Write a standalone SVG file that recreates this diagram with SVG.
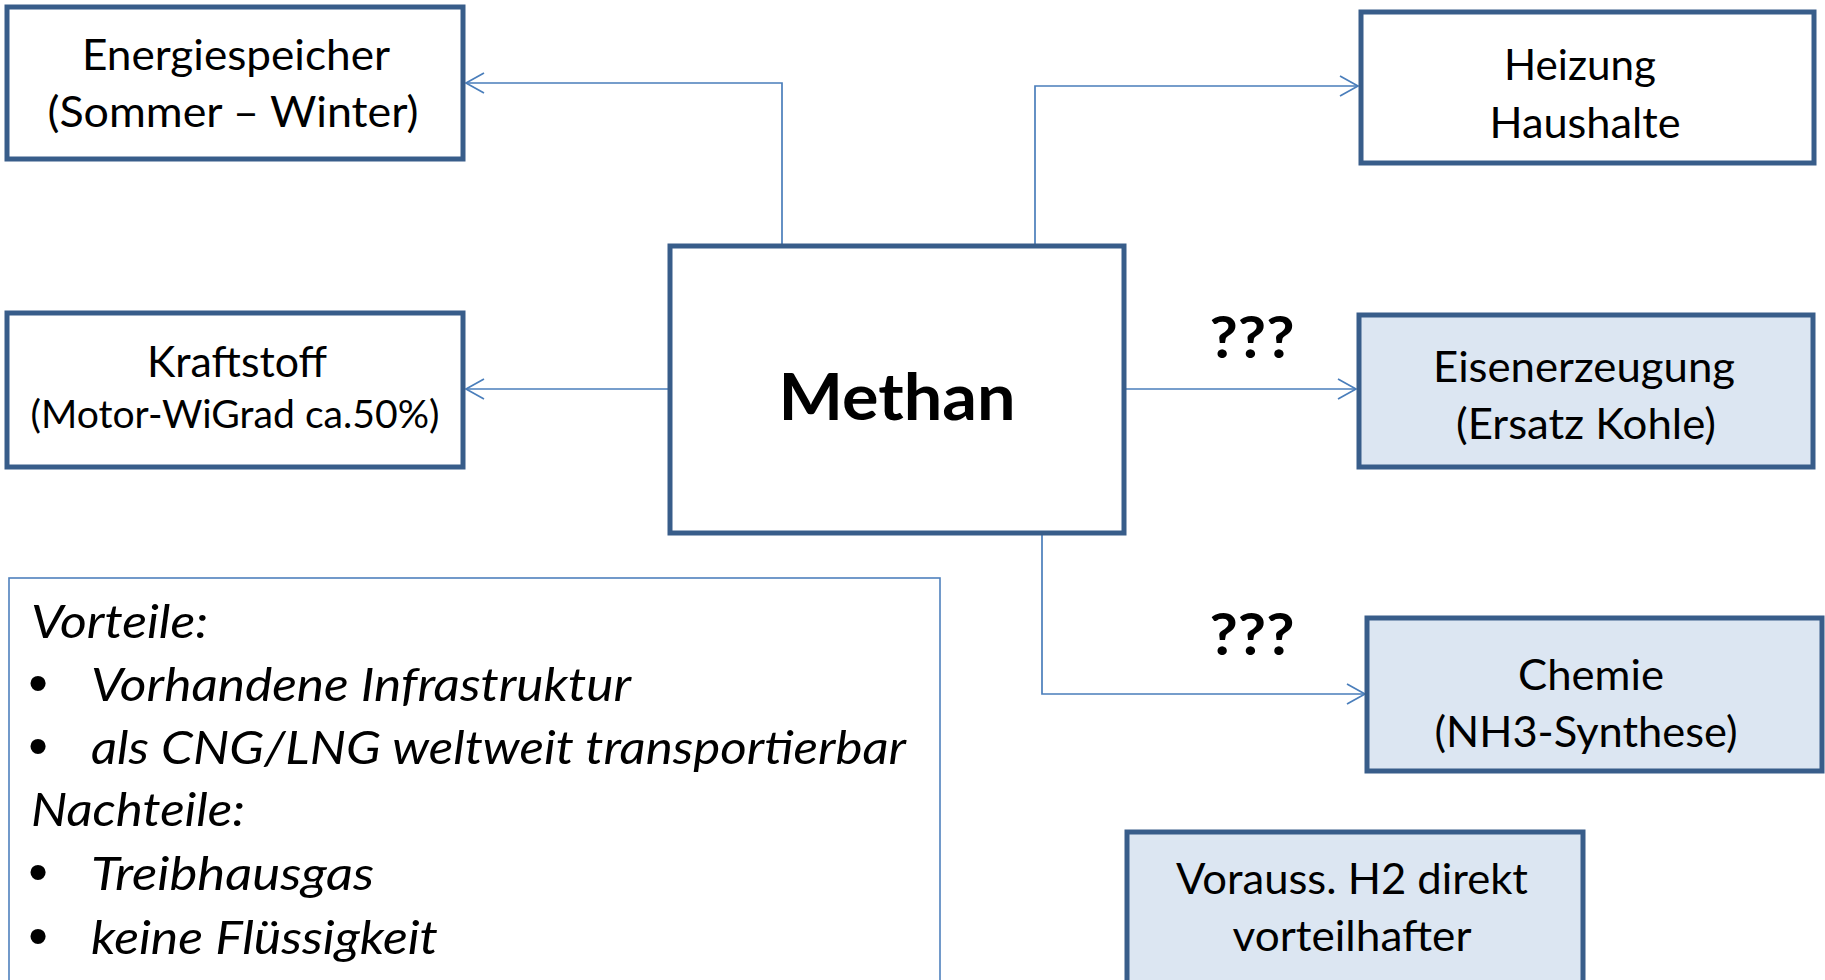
<svg xmlns="http://www.w3.org/2000/svg" width="1825" height="980" viewBox="0 0 1825 980">
  <style>
    .box { fill: #ffffff; stroke: #385d8a; stroke-width: 5; }
    .boxb { fill: #dce6f2; stroke: #385d8a; stroke-width: 5; }
    .note { fill: #ffffff; stroke: #4f81bd; stroke-width: 1.6; }
    .t { font-family: Lato, "Liberation Sans", sans-serif; font-size: 42px; fill: #000; text-anchor: middle; }
    .ts { font-size: 38px; }
    .big { font-family: Lato, "Liberation Sans", sans-serif; font-weight: bold; font-size: 65px; fill: #000; text-anchor: middle; }
    .q { font-family: Lato, "Liberation Sans", sans-serif; font-weight: bold; font-size: 58px; fill: #000; text-anchor: middle; }
    .it { font-family: Lato, "Liberation Sans", sans-serif; font-style: italic; font-size: 47px; fill: #000; }
    .bul { font-family: "Liberation Sans", sans-serif; font-size: 56px; fill: #000; text-anchor: middle; }
    .con { fill: none; stroke: #4a7ebb; stroke-width: 1.7; }
  </style>
  <defs>
    <marker id="arr" markerUnits="userSpaceOnUse" markerWidth="24" markerHeight="24" viewBox="-20 -12 22 24" refX="0" refY="0" orient="auto">
      <path d="M-18,-10 L0,0 L-18,10" fill="none" stroke="#4a7ebb" stroke-width="1.7"/>
    </marker>
  </defs>

  <g id="connectors">
    <path class="con" d="M782,246 V83 H466" marker-end="url(#arr)"/>
    <path class="con" d="M1035,246 V86 H1358" marker-end="url(#arr)"/>
    <path class="con" d="M670,389 H466" marker-end="url(#arr)"/>
    <path class="con" d="M1124,389 H1356" marker-end="url(#arr)"/>
    <path class="con" d="M1042,533 V694 H1365" marker-end="url(#arr)"/>
  </g>

  <g id="energiespeicher">
    <rect class="box" x="7" y="7" width="456" height="152"/>
    <text class="t" x="236" y="70" textLength="308" lengthAdjust="spacingAndGlyphs">Energiespeicher</text>
    <text class="t" x="233" y="127" textLength="371" lengthAdjust="spacingAndGlyphs">(Sommer – Winter)</text>
  </g>

  <g id="kraftstoff">
    <rect class="box" x="7" y="313" width="456" height="154"/>
    <text class="t" x="237" y="377" textLength="180" lengthAdjust="spacingAndGlyphs">Kraftstoff</text>
    <text class="t ts" x="235" y="428" textLength="409" lengthAdjust="spacingAndGlyphs">(Motor-WiGrad ca.50%)</text>
  </g>

  <g id="methan">
    <rect class="box" x="670" y="246" width="454" height="287"/>
    <text class="big" x="897" y="420" textLength="237" lengthAdjust="spacingAndGlyphs">Methan</text>
  </g>

  <g id="heizung">
    <rect class="box" x="1361" y="12" width="453" height="151"/>
    <text class="t" x="1580" y="80" textLength="152" lengthAdjust="spacingAndGlyphs">Heizung</text>
    <text class="t" x="1585" y="138" textLength="191" lengthAdjust="spacingAndGlyphs">Haushalte</text>
  </g>

  <g id="eisenerzeugung">
    <rect class="boxb" x="1359" y="315" width="454" height="152"/>
    <text class="t" x="1584" y="382" textLength="302" lengthAdjust="spacingAndGlyphs">Eisenerzeugung</text>
    <text class="t" x="1586" y="439" textLength="260" lengthAdjust="spacingAndGlyphs">(Ersatz Kohle)</text>
  </g>

  <g id="chemie">
    <rect class="boxb" x="1367" y="618" width="455" height="153"/>
    <text class="t" x="1591" y="690" textLength="146" lengthAdjust="spacingAndGlyphs">Chemie</text>
    <text class="t" x="1586" y="747" textLength="303" lengthAdjust="spacingAndGlyphs">(NH3-Synthese)</text>
  </g>

  <g id="vorauss">
    <rect class="boxb" x="1127" y="832" width="456" height="170"/>
    <text class="t" x="1352" y="894" textLength="352" lengthAdjust="spacingAndGlyphs">Vorauss. H2 direkt</text>
    <text class="t" x="1352" y="951" textLength="239" lengthAdjust="spacingAndGlyphs">vorteilhafter</text>
  </g>

  <g id="label-q1">
    <text class="q" x="1252" y="358" textLength="85" lengthAdjust="spacingAndGlyphs">???</text>
  </g>
  <g id="label-q2">
    <text class="q" x="1252" y="655" textLength="85" lengthAdjust="spacingAndGlyphs">???</text>
  </g>

  <g id="vor-nachteile">
    <rect class="note" x="9" y="578" width="931" height="420"/>
    <text class="it" x="31" y="638" textLength="177" lengthAdjust="spacingAndGlyphs">Vorteile:</text>
    <text class="bul" x="38" y="702">•</text>
    <text class="it" x="91" y="701" textLength="540" lengthAdjust="spacingAndGlyphs">Vorhandene Infrastruktur</text>
    <text class="bul" x="38" y="765">•</text>
    <text class="it" x="91" y="764" textLength="815" lengthAdjust="spacingAndGlyphs">als CNG/LNG weltweit transportierbar</text>
    <text class="it" x="31" y="826" textLength="214" lengthAdjust="spacingAndGlyphs">Nachteile:</text>
    <text class="bul" x="38" y="891">•</text>
    <text class="it" x="91" y="890" textLength="283" lengthAdjust="spacingAndGlyphs">Treibhausgas</text>
    <text class="bul" x="38" y="955">•</text>
    <text class="it" x="91" y="954" textLength="347" lengthAdjust="spacingAndGlyphs">keine Flüssigkeit</text>
  </g>
</svg>
